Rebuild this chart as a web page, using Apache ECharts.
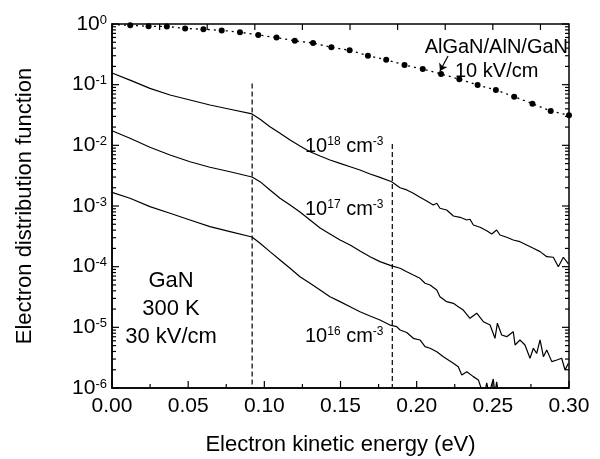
<!DOCTYPE html>
<html>
<head>
<meta charset="utf-8">
<script src="https://cdn.jsdelivr.net/npm/echarts@6/dist/echarts.min.js"></script>
<style>
html, body { margin: 0; padding: 0; background: #fff; }
#chart { width: 600px; height: 459px; }
</style>
</head>
<body>
<div id="chart"></div>
<script>
// GaN, 300 K, 30 kV/cm, three doping levels: [energy (eV), distribution]
const curve18 = [
    [0, 1.56e-1], [0.0118, 1.19e-1], [0.0249, 8.7e-2], [0.0381, 6.76e-2], [0.0512, 5.59e-2],
    [0.0643, 4.62e-2], [0.0775, 3.93e-2], [0.0919, 3.29e-2], [0.0972, 2.69e-2], [0.1037, 2.03e-2],
    [0.1103, 1.58e-2], [0.1169, 1.22e-2], [0.1234, 9.75e-3], [0.1300, 7.85e-3], [0.1366, 6.67e-3],
    [0.1431, 5.73e-3], [0.1497, 5.05e-3], [0.1563, 4.44e-3], [0.1628, 3.92e-3], [0.1694, 3.37e-3],
    [0.1759, 2.97e-3], [0.1836, 2.51e-3], [0.1891, 2.00e-3], [0.1935, 1.84e-3], [0.1978, 1.62e-3],
    [0.2022, 1.39e-3], [0.2066, 1.21e-3], [0.2109, 1.04e-3], [0.2132, 1.11e-3], [0.2153, 9.17e-4],
    [0.2197, 8.59e-4], [0.2241, 6.84e-4], [0.2285, 6.51e-4], [0.2329, 5.88e-4], [0.2350, 6.04e-4],
    [0.2372, 4.86e-4], [0.2416, 4.46e-4], [0.2460, 3.92e-4], [0.2493, 3.45e-4], [0.2525, 4.02e-4],
    [0.2547, 3.33e-4], [0.2591, 3.05e-4], [0.2634, 2.75e-4], [0.2678, 2.58e-4], [0.2722, 2.28e-4],
    [0.2766, 2.01e-4], [0.2810, 1.77e-4], [0.2854, 1.46e-4], [0.2897, 1.43e-4], [0.2930, 1.00e-4],
    [0.2963, 1.43e-4], [0.2996, 1.11e-4]
]
const curve17 = [
    [0, 1.74e-2], [0.0118, 1.31e-2], [0.0249, 9.29e-3], [0.0381, 6.93e-3], [0.0512, 5.37e-3],
    [0.0643, 4.35e-3], [0.0775, 3.67e-3], [0.0919, 3.01e-3], [0.0972, 2.52e-3], [0.1037, 1.84e-3],
    [0.1103, 1.34e-3], [0.1169, 1.04e-3], [0.1234, 7.96e-4], [0.1300, 5.88e-4], [0.1366, 4.34e-4],
    [0.1431, 3.46e-4], [0.1497, 2.75e-4], [0.1563, 2.28e-4], [0.1628, 1.81e-4], [0.1694, 1.46e-4],
    [0.1759, 1.21e-4], [0.1836, 1.03e-4], [0.1891, 9.40e-5], [0.1935, 8.26e-5], [0.1978, 7.29e-5],
    [0.2022, 6.43e-5], [0.2055, 5.32e-5], [0.2088, 4.99e-5], [0.2132, 4.13e-5], [0.2153, 3.20e-5],
    [0.2197, 2.65e-5], [0.2241, 2.49e-5], [0.2273, 2.19e-5], [0.2306, 1.93e-5], [0.2350, 1.41e-5],
    [0.2394, 1.71e-5], [0.2438, 1.24e-5], [0.2482, 1.09e-5], [0.2514, 6.59e-6], [0.2530, 1.17e-5],
    [0.2558, 7.48e-6], [0.2591, 7.02e-6], [0.2634, 8.48e-6], [0.2646, 5.12e-6], [0.2678, 6.19e-6],
    [0.2711, 5.12e-6], [0.2744, 3.09e-6], [0.2766, 4.52e-6], [0.2788, 3.73e-6], [0.2810, 6.19e-6],
    [0.2832, 3.28e-6], [0.2854, 4.24e-6], [0.2887, 2.72e-6], [0.2920, 2.90e-6], [0.2952, 3.09e-6],
    [0.2974, 1.98e-6], [0.2996, 2.55e-6]
]
const curve16 = [
    [0, 1.68e-3], [0.0118, 1.34e-3], [0.0249, 9.75e-4], [0.0381, 7.59e-4], [0.0512, 5.88e-4],
    [0.0643, 4.56e-4], [0.0775, 3.78e-4], [0.0919, 3.08e-4], [0.0972, 2.43e-4], [0.1037, 1.77e-4],
    [0.1103, 1.29e-4], [0.1169, 9.40e-5], [0.1234, 6.84e-5], [0.1300, 5.32e-5], [0.1366, 4.13e-5],
    [0.1431, 3.20e-5], [0.1497, 2.65e-5], [0.1563, 2.19e-5], [0.1628, 1.81e-5], [0.1694, 1.54e-5],
    [0.1759, 1.32e-5], [0.1825, 1.09e-5], [0.1869, 1.03e-5], [0.1891, 9.04e-6], [0.1935, 8.22e-6],
    [0.1978, 6.59e-6], [0.2022, 6.19e-6], [0.2055, 4.80e-6], [0.2088, 4.52e-6], [0.2132, 3.97e-6],
    [0.2175, 3.28e-6], [0.2208, 2.90e-6], [0.2241, 2.55e-6], [0.2273, 2.24e-6], [0.2296, 1.64e-6],
    [0.2329, 1.86e-6], [0.2372, 1.54e-6], [0.2405, 1.36e-6], [0.2427, 9.3e-7], [0.2445, 8.0e-7],
    [0.2460, 1.21e-6], [0.2475, 8.0e-7], [0.2503, 1.41e-6], [0.2514, 8.0e-7], [0.2525, 1.26e-6],
    [0.2541, 7.0e-7], [0.2600, 5.0e-7], [0.3000, 2.0e-7]
]
// AlGaN/AlN/GaN, 10 kV/cm (dotted line with dots)
const heteroEnergy = [0, 0.012, 0.024, 0.036, 0.048, 0.060, 0.072, 0.084, 0.096, 0.108, 0.120, 0.132, 0.144,
    0.156, 0.168, 0.180, 0.192, 0.204, 0.216, 0.228, 0.240, 0.252, 0.264, 0.276, 0.288, 0.300]
const heteroValue = [0.98, 0.952, 0.916, 0.913, 0.843, 0.821, 0.785, 0.733, 0.659, 0.597, 0.529, 0.486, 0.413,
    0.368, 0.300, 0.258, 0.211, 0.181, 0.150, 0.123, 0.0988, 0.0817, 0.0634, 0.0486, 0.0368, 0.0313]
// dashed markers: energy and upper end
const markerEnergy = [0.092, 0.184]
const markerTop = [0.105, 0.0105]
// tick values
const decades = [1e-6, 1e-5, 1e-4, 1e-3, 1e-2, 1e-1, 1]
const energyTicks = [0, 0.025, 0.05, 0.075, 0.1, 0.125, 0.15, 0.175, 0.2, 0.225, 0.25, 0.275, 0.3]
const topTicks = [1, 2, 3, 4, 5, 6, 7, 8, 9]

const FONT = 'Liberation Sans, Arial, Helvetica, sans-serif'
const black = '#000'

// frame ticks, drawn inside the plot through the axes' own scales
let yTickData = []
decades.forEach((d, i) => {
    yTickData.push([0, d, 7])
    if (i < decades.length - 1) {
        for (let m = 2; m <= 9; m++) yTickData.push([0, d * m, 4])
    }
})
const xTickData = energyTicks.map((e, i) => [e, 1e-6, i % 2 ? 4 : 7])
const topTickData = topTicks.map(t => [t, 1, 6])

const tickLine = (x1, y1, x2, y2) => ({
    type: 'line',
    shape: { x1: x1, y1: y1, x2: x2, y2: y2 },
    style: { stroke: black, lineWidth: 1.2 }
})

const supRich = (big, small) => ({
    n: { fontSize: big, fontFamily: FONT, color: black, lineHeight: big, verticalAlign: 'bottom' },
    s: { fontSize: small, fontFamily: FONT, color: black, lineHeight: small, verticalAlign: 'top', padding: [0, 0, 12, 0] }
})

const annot = (left, top, text) => ({
    type: 'text', left: left, top: top,
    style: { text: text, rich: supRich(20, 12) }
})

let option = {
    animation: false,
    grid: {
        left: 112, right: 31, top: 24, bottom: 71,
        show: true, borderColor: black, borderWidth: 1.5,
        outerBoundsMode: 'none'
    },
    xAxis: [
        {
            type: 'value',
            min: 0,
            max: 0.3,
            interval: 0.05,
            position: 'bottom',
            axisLine: { show: true, onZero: false, lineStyle: { color: black, width: 1.5 } },
            axisTick: { show: false },
            axisLabel: {
                margin: 8,
                fontSize: 21,
                fontFamily: FONT,
                color: black,
                formatter: v => v.toFixed(2)
            },
            splitLine: { show: false },
            name: 'Electron kinetic energy (eV)',
            nameLocation: 'middle',
            nameGap: 46,
            nameTextStyle: { fontSize: 22, fontFamily: FONT, color: black }
        },
        {
            type: 'value',
            min: 0,
            max: 9.6,
            position: 'top',
            axisLine: { show: false, onZero: false },
            axisTick: { show: false },
            axisLabel: { show: false },
            splitLine: { show: false }
        }
    ],
    yAxis: [
        {
            type: 'log',
            min: 1e-6,
            max: 1,
            position: 'left',
            axisLine: { show: true, onZero: false, lineStyle: { color: black, width: 1.5 } },
            axisTick: { show: false },
            axisLabel: {
                margin: 5,
                formatter: v => '{n|10}{s|' + Math.round(Math.log10(v)) + '}',
                rich: supRich(21, 13)
            },
            splitLine: { show: false },
            name: 'Electron distribution function',
            nameLocation: 'middle',
            nameGap: 76,
            nameTextStyle: { fontSize: 22, fontFamily: FONT, color: black }
        }
    ],
    series: [
        ...[curve18, curve17, curve16].map(d => ({
            type: 'line',
            data: d,
            showSymbol: false,
            lineStyle: { color: black, width: 1.2 }
        })),
        ...markerEnergy.map((e, i) => ({
            type: 'line',
            data: [[e, markerTop[i]], [e, 1e-6]],
            showSymbol: false,
            lineStyle: { color: black, width: 1.2, type: [5, 3] }
        })),
        {
            type: 'line',
            data: heteroEnergy.map((e, i) => i === 0
                ? { value: [e, heteroValue[i]], symbol: 'none' }
                : [e, heteroValue[i]]),
            symbol: 'circle',
            symbolSize: 6,
            itemStyle: { color: black },
            lineStyle: { color: black, width: 1.3, type: [2, 4] },
            markLine: {
                silent: true,
                symbol: ['none', 'arrow'],
                symbolSize: 7,
                label: { show: false },
                lineStyle: { color: black, width: 1.2, type: 'solid' },
                data: [[{ coord: [0.2206, 0.297] }, { coord: [0.2153, 0.168] }]]
            }
        },
        {
            // left and right log ticks
            type: 'custom',
            silent: true,
            data: yTickData,
            renderItem: (params, api) => {
                const v = api.value(1), len = api.value(2)
                const l = api.coord([0, v]), r = api.coord([0.3, v])
                return {
                    type: 'group',
                    children: [tickLine(l[0], l[1], l[0] + len, l[1]), tickLine(r[0], r[1], r[0] - len, r[1])]
                }
            }
        },
        {
            // bottom energy ticks
            type: 'custom',
            silent: true,
            data: xTickData,
            renderItem: (params, api) => {
                const p = api.coord([api.value(0), api.value(1)])
                return tickLine(p[0], p[1], p[0], p[1] - api.value(2))
            }
        },
        {
            // top axis ticks
            type: 'custom',
            silent: true,
            xAxisIndex: 1,
            data: topTickData,
            renderItem: (params, api) => {
                const p = api.coord([api.value(0), api.value(1)])
                return tickLine(p[0], p[1], p[0], p[1] + api.value(2))
            }
        }
    ],
    graphic: [
        annot(305, 136, '{n|10}{s|18}{n| cm}{s|-3}'),
        annot(305, 199, '{n|10}{s|17}{n| cm}{s|-3}'),
        annot(305, 326, '{n|10}{s|16}{n| cm}{s|-3}'),
        {
            type: 'text', right: 32, top: 37,
            style: { text: 'AlGaN/AlN/GaN', font: '20px ' + FONT, fill: black }
        },
        {
            type: 'text', left: 455, top: 61,
            style: { text: '10 kV/cm', font: '20px ' + FONT, fill: black }
        },
        {
            type: 'text', x: 171, y: 309,
            style: {
                text: 'GaN\n300 K\n30 kV/cm', font: '22px ' + FONT, fill: black,
                align: 'center', verticalAlign: 'middle', lineHeight: 28
            }
        }
    ]
}

const EC = echarts.init(document.getElementById('chart'))
EC.setOption(option)
</script>
</body>
</html>
